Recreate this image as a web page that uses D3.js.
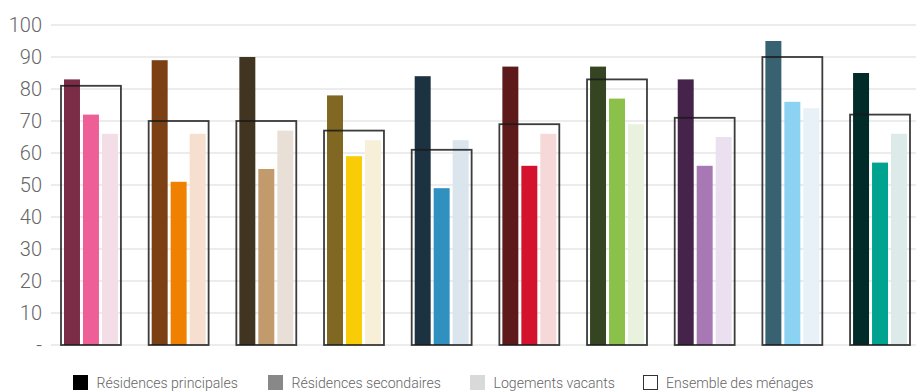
<!DOCTYPE html>
<html>
<head>
<meta charset="utf-8">
<script src="https://cdn.jsdelivr.net/npm/d3@7"></script>
<style>
  html, body { margin: 0; padding: 0; background: #fff; }
  svg { display: block; font-family: Roboto, "Noto Sans", sans-serif; }
</style>
</head>
<body>
<svg id="chart" width="916" height="392"></svg>
<script>
// Group keys (one cluster of bars per group)
const groups = ["g1", "g2", "g3", "g4", "g5", "g6", "g7", "g8", "g9", "g10"];

// Values per series, in %
const principales = [83, 89, 90, 78, 84, 87, 87, 83, 95, 85];
const secondaires = [72, 51, 55, 59, 49, 56, 77, 56, 76, 57];
const vacants     = [66, 66, 67, 64, 64, 66, 69, 65, 74, 66];
const ensemble    = [81, 70, 70, 67, 61, 69, 83, 71, 90, 72];

// Y ticks and their labels
const yTicks = [0, 10, 20, 30, 40, 50, 60, 70, 80, 90, 100];
const yTickLabels = ["-", "10", "20", "30", "40", "50", "60", "70", "80", "90", "100"];

// Colour palette per group: [principales, secondaires, vacants]
const darkColors  = ["#7b2d47", "#7b4114", "#413522", "#806822", "#1c3240", "#5e1a1b", "#354521", "#45234a", "#386272", "#002b28"];
const midColors   = ["#ee5f97", "#f08000", "#c19b6c", "#f8cd07", "#3090c0", "#d5122e", "#8bc04b", "#a878b4", "#8cd2f2", "#00a390"];
const lightColors = ["#f3dde6", "#f6dfce", "#e8e0d6", "#f7efd8", "#dae5ee", "#f6d8d8", "#e8f2df", "#ebe0f0", "#e8f0f8", "#dcebe9"];

// Legend entries
const legendLabels = ["Résidences principales", "Résidences secondaires", "Logements vacants", "Ensemble des ménages"];
const legendFills  = ["#000000", "#888888", "#d9d9d9", "#ffffff"];

const svg = d3.select("#chart");

const y = d3.scaleLinear().domain([0, 100]).range([345, 25]);

const x0 = d3.scaleBand()
  .domain(groups)
  .range([60.5, 910.5])
  .paddingInner(0.305)
  .paddingOuter(0);

const x1 = d3.scaleBand()
  .domain([0, 1, 2])
  .range([3.5, x0.bandwidth() - 3.5])
  .paddingInner(0.158)
  .paddingOuter(0);

// Horizontal grid lines
svg.append("g")
  .selectAll("line")
  .data(yTicks)
  .join("line")
  .attr("x1", 51)
  .attr("x2", 916)
  .attr("y1", d => y(d))
  .attr("y2", d => y(d))
  .attr("stroke", "#e6e6e6")
  .attr("stroke-width", 1.6);

// Y axis labels
const yAxis = d3.axisLeft(y)
  .tickValues(yTicks)
  .tickFormat((d, i) => yTickLabels[i])
  .tickSize(0)
  .tickPadding(0);

const gy = svg.append("g")
  .attr("transform", "translate(42,0)")
  .call(yAxis);
gy.select(".domain").remove();
gy.selectAll("text")
  .attr("font-family", "Roboto, sans-serif")
  .attr("font-weight", 300)
  .attr("font-size", 20)
  .attr("fill", "#666666");

// Bars
const rows = groups.map((g, i) => ({
  key: g,
  values: [
    { s: 0, v: principales[i], c: darkColors[i] },
    { s: 1, v: secondaires[i], c: midColors[i] },
    { s: 2, v: vacants[i], c: lightColors[i] }
  ],
  total: ensemble[i]
}));

const gGroups = svg.append("g")
  .selectAll("g")
  .data(rows)
  .join("g")
  .attr("transform", d => `translate(${x0(d.key)},0)`);

gGroups.selectAll("rect.bar")
  .data(d => d.values)
  .join("rect")
  .attr("class", "bar")
  .attr("x", d => x1(d.s))
  .attr("width", x1.bandwidth())
  .attr("y", d => y(d.v))
  .attr("height", d => y(0) - y(d.v))
  .attr("fill", d => d.c);

// Outline for "Ensemble des ménages"
gGroups.append("rect")
  .attr("x", 0.5)
  .attr("width", x0.bandwidth() - 1)
  .attr("y", d => y(d.total))
  .attr("height", d => y(0) - y(d.total))
  .attr("fill", "none")
  .attr("stroke", "#1a1a1a")
  .attr("stroke-opacity", 0.85)
  .attr("stroke-width", 1.8);

// Legend
const legendX = [73, 268, 470, 643];
const legend = svg.append("g")
  .selectAll("g")
  .data(legendLabels)
  .join("g")
  .attr("transform", (d, i) => `translate(${legendX[i]},375)`);

legend.append("rect")
  .attr("x", (d, i) => i === 3 ? 0.5 : 0)
  .attr("y", (d, i) => i === 3 ? 0.5 : 0)
  .attr("width", (d, i) => i === 3 ? 14 : 15)
  .attr("height", (d, i) => i === 3 ? 14 : 15)
  .attr("fill", (d, i) => legendFills[i])
  .attr("stroke", (d, i) => i === 3 ? "#333" : "none")
  .attr("stroke-width", 1);

// Legend labels use a slightly narrowed face
legend.append("text")
  .attr("transform", (d, i) => `translate(${i === 3 ? 23 : 23.5},12.5) scale(0.91,1)`)
  .attr("font-family", "Roboto, sans-serif")
  .attr("font-weight", 300)
  .attr("font-size", 15.5)
  .attr("fill", "#666666")
  .text(d => d);
</script>
</body>
</html>
